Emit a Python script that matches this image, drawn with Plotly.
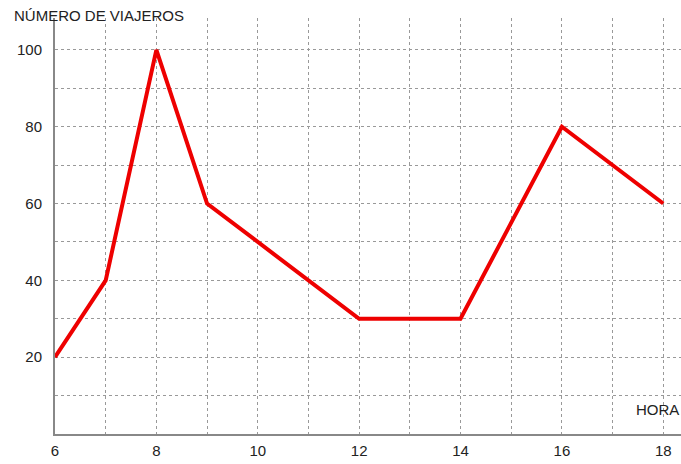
import plotly.graph_objects as go

hora = [6, 7, 8, 9, 12, 14, 16, 18]
viajeros = [20, 40, 100, 60, 30, 30, 80, 60]

x_tickvals = list(range(6, 19))
x_ticktext = [str(v) if v % 2 == 0 else "" for v in x_tickvals]
y_tickvals = list(range(0, 110, 10))
y_ticktext = [str(v) if (v % 20 == 0 and v > 0) else "" for v in y_tickvals]

fig = go.Figure()
fig.add_trace(go.Scatter(x=hora, y=viajeros, mode="lines",
                         line=dict(color="#ee0000", width=4), cliponaxis=False))

fig.update_layout(
    width=681, height=464,
    margin=dict(l=55, r=0, t=18, b=30),
    paper_bgcolor="white", plot_bgcolor="white",
    showlegend=False,
    font=dict(family="Liberation Sans, Arial, sans-serif", size=15, color="#222"),
)
fig.update_xaxes(range=[6, 18.35], tickvals=x_tickvals, ticktext=x_ticktext,
                 showgrid=True, gridcolor="#999", griddash="3px,3px", gridwidth=1,
                 showline=True, linecolor="#888", linewidth=2, zeroline=False,
                 ticks="", ticklabelstandoff=2, automargin=False)
fig.update_yaxes(range=[0, 108.3], tickvals=y_tickvals, ticktext=y_ticktext,
                 showgrid=True, gridcolor="#999", griddash="3px,3px", gridwidth=1,
                 showline=True, linecolor="#888", linewidth=2, zeroline=False,
                 ticks="", ticklabelstandoff=8, automargin=False)

fig.add_annotation(text="NÚMERO DE VIAJEROS", xref="paper", yref="paper",
                   x=-0.068, y=1.0, xanchor="left", yanchor="bottom", yshift=-8,
                   showarrow=False, font=dict(size=15, color="#222"))
fig.add_annotation(text="HORA", xref="paper", yref="paper",
                   x=1.0, y=0.0, xanchor="right", yanchor="bottom", yshift=14,
                   showarrow=False, font=dict(size=15, color="#222"))

fig.write_html("out.html", config={"displayModeBar": False},
               post_script="document.body.style.margin='0px';document.body.style.overflow='hidden';")
